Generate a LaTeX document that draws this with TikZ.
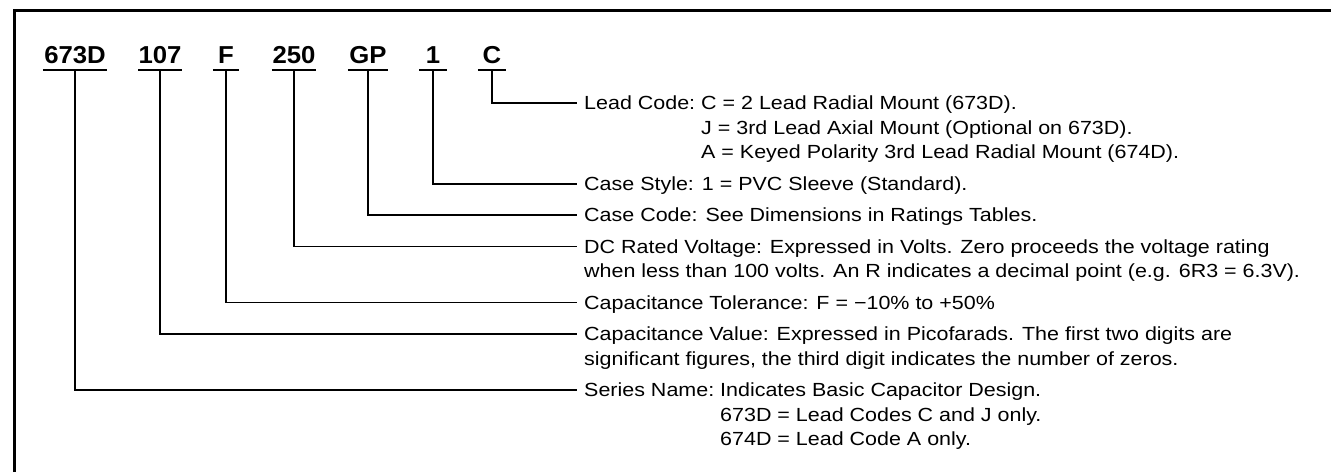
\documentclass[tikz,border=0pt]{standalone}
\usepackage{fontspec}
\setmainfont{Liberation Sans}
\newfontfamily\descfont[FakeStretch=1.13]{Liberation Sans}
\newfontfamily\labfont[FakeStretch=1.05]{Liberation Sans}
\begin{document}
\begin{tikzpicture}[x=1pt,y=-1pt,
  lab/.style={font=\labfont\bfseries\fontsize{24.5}{26}\selectfont, inner xsep=0pt, inner ysep=6pt, text depth=0pt, anchor=south},
  desc/.style={font=\descfont\fontsize{19}{24.5}\selectfont, inner sep=0pt, anchor=base west},
  conn/.style={line width=1.3pt},
  uline/.style={line width=2.2pt},
  frame/.style={line width=3pt, line join=miter}]
\useasboundingbox (0,0) rectangle (1331,472);
\draw[frame] (14,472) -- (14,10) -- (1331,10);

% code labels
\node[lab, minimum width=64pt] (l1) at (75,70) {673D};
\node[lab, minimum width=43pt] (l2) at (160,70) {107};
\node[lab, minimum width=26pt] (l3) at (226,70) {F};
\node[lab, minimum width=44pt] (l4) at (294,70) {250};
\node[lab, minimum width=40pt] (l5) at (368,70) {GP};
\node[lab, minimum width=27pt] (l6) at (433,70) {1};
\node[lab, minimum width=28pt] (l7) at (492,70) {C};
\foreach \n in {l1,l2,l3,l4,l5,l6,l7}
  \draw[uline] (\n.south west) -- (\n.south east);

% descriptions
\node[desc] (d7) at (584,109.8) {\begin{tabular}[t]{@{}l@{\ }l@{}}Lead Code: & C = 2 Lead Radial Mount (673D).\\
 & J = 3rd Lead Axial Mount (Optional on 673D).\\
 & A = Keyed Polarity 3rd Lead Radial Mount (674D).\end{tabular}};
\node[desc] (d6) at (584,190.8) {Case Style: 1 = PVC Sleeve (Standard).};
\node[desc] (d5) at (584,221.8) {Case Code: See Dimensions in Ratings Tables.};
\node[desc] (d4) at (584,253.3) {\begin{tabular}[t]{@{}l@{}}DC Rated Voltage: Expressed in Volts. Zero proceeds the voltage rating\\
when less than 100 volts. An R indicates a decimal point (e.g. 6R3 = 6.3V).\end{tabular}};
\node[desc] (d3) at (584,309.3) {Capacitance Tolerance: F = −10\% to +50\%};
\node[desc] (d2) at (584,340.8) {\begin{tabular}[t]{@{}l@{}}Capacitance Value: Expressed in Picofarads. The first two digits are\\
significant figures, the third digit indicates the number of zeros.\end{tabular}};
\node[desc] (d1) at (584,396.8) {\begin{tabular}[t]{@{}l@{\ }l@{}}Series Name: & Indicates Basic Capacitor Design.\\
 & 673D = Lead Codes C and J only.\\
 & 674D = Lead Code A only.\end{tabular}};

% connectors
\foreach \i in {1,...,7}
  \draw[conn] (l\i.south) |- ([xshift=-7pt,yshift=6.8pt]d\i.base west);
\end{tikzpicture}
\end{document}
